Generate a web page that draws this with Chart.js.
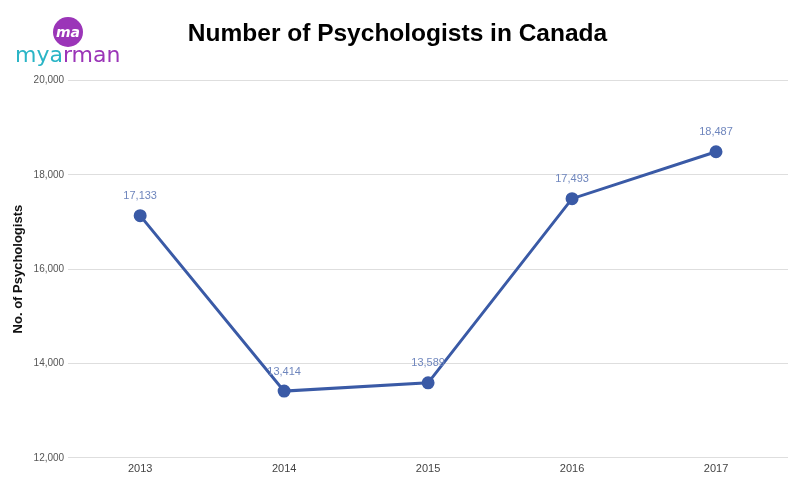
<!DOCTYPE html>
<html>
<head>
<meta charset="utf-8">
<script src="https://cdn.jsdelivr.net/npm/chart.js@4.4.0/dist/chart.umd.min.js"></script>
<style>
  html, body { margin: 0; padding: 0; background: #fff; }
  #wrap { width: 800px; height: 500px; position: relative; }
</style>
</head>
<body>
<div id="wrap"><canvas id="psicologosChart" width="800" height="500"></canvas></div>
<script>
// Datos del gráfico
const anios = ['2013', '2014', '2015', '2016', '2017'];
const psicologos = [17133, 13414, 13589, 17493, 18487];
const ticksY = [12000, 14000, 16000, 18000, 20000];

// Logo y etiquetas de valores
const logoPlugin = {
    id: 'logo',
    afterDraw(chart) {
        const ctx = chart.ctx;
        ctx.save();
        ctx.beginPath();
        ctx.arc(68, 32, 15, 0, Math.PI * 2);
        ctx.fillStyle = '#9b35b8';
        ctx.fill();
        ctx.fillStyle = '#fff';
        ctx.font = 'italic bold 14px "DejaVu Sans"';
        ctx.textAlign = 'center';
        ctx.textBaseline = 'middle';
        ctx.fillText('ma', 68, 33);
        ctx.font = '22px "DejaVu Sans"';
        ctx.textAlign = 'left';
        ctx.textBaseline = 'alphabetic';
        ctx.fillStyle = '#2bb5c6';
        ctx.fillText('mya', 15, 62);
        const w = ctx.measureText('mya').width;
        ctx.fillStyle = '#9b35b8';
        ctx.fillText('rman', 15 + w, 62);
        ctx.restore();
    }
};

const etiquetasPlugin = {
    id: 'etiquetas',
    afterDatasetsDraw(chart) {
        const ctx = chart.ctx;
        const meta = chart.getDatasetMeta(0);
        ctx.save();
        ctx.font = '11px "Liberation Sans"';
        ctx.fillStyle = '#6f86bd';
        ctx.textAlign = 'center';
        ctx.textBaseline = 'bottom';
        meta.data.forEach((p, i) => {
            ctx.fillText(psicologos[i].toLocaleString('en-US'), p.x, p.y - 14);
        });
        ctx.restore();
    }
};

new Chart(document.getElementById('psicologosChart'), {
    type: 'line',
    data: {
        labels: anios,
        datasets: [{
            data: psicologos,
            borderColor: '#3a5aa6',
            backgroundColor: '#3a5aa6',
            borderWidth: 3,
            pointRadius: 5,
            tension: 0
        }]
    },
    options: {
        responsive: false,
        animation: false,
        layout: { padding: { left: 7, right: 12, top: 0, bottom: 19 } },
        plugins: {
            legend: { display: false },
            tooltip: { enabled: false },
            title: {
                display: true,
                text: 'Number of Psychologists in Canada',
                color: '#000',
                font: { family: '"Liberation Sans"', size: 24.5, weight: 'bold' },
                padding: { top: 20, bottom: 31 }
            }
        },
        scales: {
            x: {
                offset: true,
                grid: { display: false, drawTicks: false },
                border: { display: false },
                ticks: { color: '#444', font: { family: '"Liberation Sans"', size: 11 }, padding: 5 }
            },
            y: {
                min: 12000,
                max: 20000,
                afterBuildTicks(axis) { axis.ticks = ticksY.map(v => ({ value: v })); },
                grid: { color: '#dedede', lineWidth: 1, drawTicks: false },
                border: { display: false },
                ticks: {
                    color: '#555',
                    font: { family: '"Liberation Sans"', size: 10 },
                    padding: 4,
                    callback: v => v.toLocaleString('en-US')
                },
                title: {
                    display: true,
                    text: 'No. of Psychologists',
                    color: '#111',
                    font: { family: '"Liberation Sans"', size: 13, weight: 'bold' },
                    padding: { top: 4, bottom: 3 }
                }
            }
        }
    },
    plugins: [logoPlugin, etiquetasPlugin]
});
</script>
</body>
</html>
